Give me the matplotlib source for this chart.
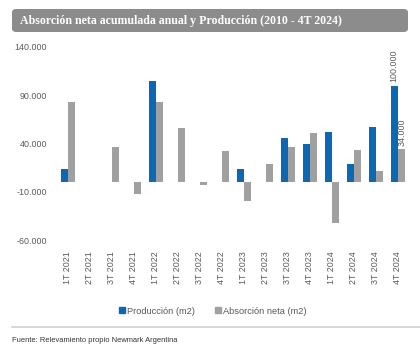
import numpy as np
import matplotlib.pyplot as plt
from matplotlib.patches import FancyBboxPatch
from matplotlib.lines import Line2D
from matplotlib.ticker import FuncFormatter

plt.rcParams['font.family'] = ['Liberation Sans', 'DejaVu Sans']

# Datos (m2)
trimestres = ['1T 2021', '2T 2021', '3T 2021', '4T 2021',
              '1T 2022', '2T 2022', '3T 2022', '4T 2022',
              '1T 2023', '2T 2023', '3T 2023', '4T 2023',
              '1T 2024', '2T 2024', '3T 2024', '4T 2024']
produccion = [14000, 0, 0, 0, 105000, 0, 0, 0,
              14000, 0, 46000, 40000, 52000, 19000, 57000, 100000]
absorcion = [83000, 0, 36500, -12500, 83000, 56000, -3000, 32500,
             -19500, 18500, 36500, 51000, -42000, 33500, 12000, 34000]

azul = '#0a68b4'
gris = '#a0a0a0'
texto = '#595959'

fig = plt.figure(figsize=(4.2, 3.51), dpi=100)
ax = fig.add_axes([57/420, 1-240/351, 352/420, 193/351])

x = np.arange(len(trimestres))
w = 0.32
ax.bar(x - w/2 - 0.02, produccion, w, color=azul)
ax.bar(x + w/2 + 0.02, absorcion, w, color=gris)

# etiquetas del último trimestre
ax.text(x[-1] - w/2 - 0.02, produccion[-1] + 4000, '100.000', rotation=90,
        ha='center', va='bottom', fontsize=6.4, color=texto)
ax.text(x[-1] + w/2 + 0.02, absorcion[-1] + 3000, '34.000', rotation=90,
        ha='center', va='bottom', fontsize=6.4, color=texto)

ax.set_xlim(-0.5, len(trimestres) - 0.5)
ax.set_ylim(-60000, 140000)
ax.set_yticks(np.arange(-60000, 140001, 50000))
ax.yaxis.set_major_formatter(FuncFormatter(lambda v, p: f'{int(v):,}'.replace(',', '.')))
ax.set_xticks(x)
ax.set_xticklabels(trimestres, rotation=90)
ax.tick_params(length=0, labelsize=6.4, labelcolor=texto)
ax.tick_params(axis='y', pad=7)
ax.tick_params(axis='x', pad=8)
for s in ax.spines.values():
    s.set_visible(False)

# leyenda
handles = [Line2D([], [], marker='s', ls='', color=azul, markersize=4.0),
           Line2D([], [], marker='s', ls='', color=gris, markersize=4.0)]
fig.legend(handles, ['Producción (m2)', 'Absorción neta (m2)'], loc='center',
           bbox_to_anchor=(212/420, 1-311/351), ncol=2, frameon=False,
           fontsize=6.7, labelcolor=texto, handletextpad=0.1,
           columnspacing=2.0, handlelength=0.9)

# banda del título
banda = FancyBboxPatch((12/420, 1-32/351), 396/420, 23/351,
                       boxstyle='round,pad=0,rounding_size=0.01',
                       transform=fig.transFigure, facecolor='#8c8c8c',
                       edgecolor='none')
fig.patches.append(banda)
fig.text(20/420, 1-21/351, 'Absorción neta acumulada anual y Producción (2010 - 4T 2024)',
         color='white', fontsize=8.6, fontweight='bold', family='Liberation Serif',
         va='center', ha='left')

# línea y fuente
fig.add_artist(Line2D([12/420, 1.0], [1-327/351, 1-327/351], transform=fig.transFigure,
                      color='#d0d0d0', lw=1.2))
fig.text(12/420, 1-341/351, 'Fuente: Relevamiento propio Newmark Argentina',
         fontsize=5.4, color='#333333', va='center', ha='left')

fig.savefig('out.png', dpi=100)
